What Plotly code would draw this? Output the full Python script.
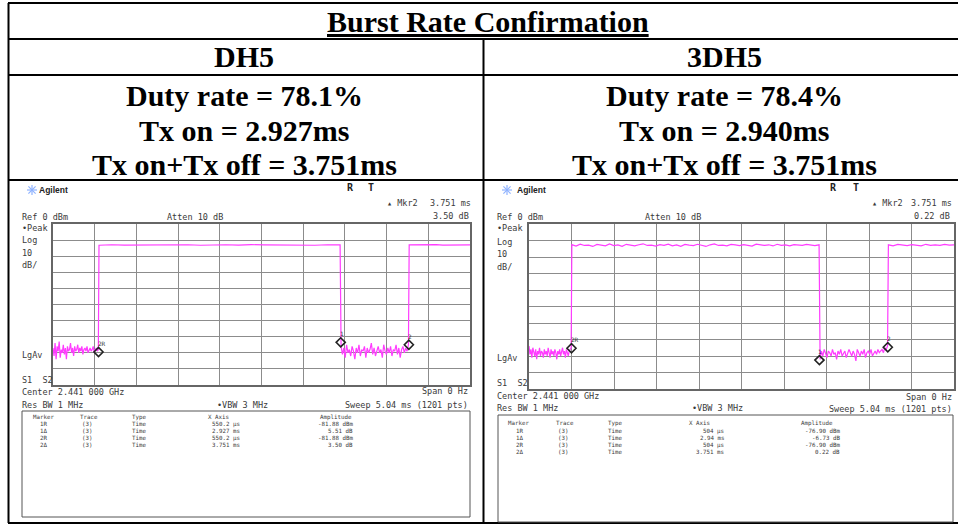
import numpy as np
import plotly.graph_objects as go

W, H = 958, 525

# ---------------- data ----------------
title_text = "Burst Rate Confirmation"
packet_types = ["DH5", "3DH5"]
duty_rates = ["78.1%", "78.4%"]
tx_on_times = ["2.927ms", "2.940ms"]
tx_periods = ["3.751ms", "3.751ms"]

sweep_ms = 5.04

# DH5 trace: segments (start ms, end ms) with levels (dBm)
dh5_seg_start = [0.0, 0.556, 3.482, 4.305]
dh5_seg_end = [0.548, 3.470, 4.296, 5.04]
dh5_low1 = [-77, -82, -74, -84, -76, -79, -73, -83, -78, -80, -75, -81, -77, -84, -76,
            -79, -78, -74, -80, -77, -82, -76, -79, -78, -75, -80, -77, -79, -76, -81,
            -78, -77, -79, -76, -80, -78, -77, -79, -78, -76, -80, -78, -77, -79, -78]
dh5_high1 = [-13.2, -12.9, -13.1, -13.0, -12.8, -13.1, -13.0, -12.9, -13.2, -13.0,
             -12.9, -13.1, -12.8, -13.0, -13.1, -12.9, -13.0, -13.2, -12.9, -13.0]
dh5_low2 = [-76, -81, -77, -83, -75, -80, -78, -82, -76, -79, -84, -77, -80, -75, -82,
            -78, -79, -76, -83, -77, -80, -78, -74, -81, -77, -82, -79, -76, -80, -78,
            -83, -75, -79, -81, -77, -80, -76, -82, -78, -79, -75, -81, -77, -83, -78,
            -76, -80, -77, -79, -75]
dh5_high2 = [-13.0, -12.9, -13.1, -13.0, -12.8, -13.1, -13.0, -12.9, -13.1, -13.0]

# 3DH5 trace
dh3_seg_start = [0.0, 0.508, 3.452, 4.262]
dh3_seg_end = [0.500, 3.440, 4.252, 5.04]
dh3_low1 = [-74, -79, -76, -81, -75, -78, -80, -76, -82, -77, -79, -75, -80, -77, -78,
            -81, -76, -79, -77, -80, -75, -78, -81, -76, -79, -77, -80, -76, -78, -82,
            -77, -79, -76, -80, -78, -75, -79, -77, -81, -76, -78, -80, -77, -76, -75]
dh3_high1 = [-12.5, -13.4, -12.2, -13.0, -12.8, -13.6, -12.4, -12.9, -13.2, -12.1,
             -13.1, -12.7, -13.5, -12.3, -12.9, -13.3, -12.6, -12.0, -13.0, -12.8,
             -13.4, -12.5, -12.9, -12.2, -13.2, -12.7, -13.5, -12.4, -12.8, -13.1,
             -12.3, -12.9, -13.6, -12.6, -12.1, -13.0, -12.8, -13.3, -12.4, -12.7,
             -13.1, -12.5, -12.9, -13.4, -12.2, -12.8, -13.0, -12.6, -13.3, -12.3,
             -12.9, -12.7, -13.2, -12.5, -12.8, -13.0, -12.4, -12.9, -13.1, -12.6]
dh3_low2 = [-82, -77, -80, -76, -79, -81, -77, -78, -80, -76, -79, -78, -82, -77, -79,
            -76, -80, -78, -77, -81, -79, -76, -78, -80, -77, -79, -83, -76, -78, -80,
            -77, -79, -76, -81, -78, -77, -79, -76, -80, -78, -77, -79, -76, -78, -77,
            -76, -78, -75, -76, -74]
dh3_high2 = [-12.6, -13.2, -12.4, -12.9, -13.1, -12.5, -12.8, -13.3, -12.3, -12.9,
             -12.7, -13.0, -12.4, -12.8, -12.6]

# marker positions on screen (ms, dBm) : R, 1 delta, 2 delta
dh5_mk_t = [0.5502, 3.4772, 4.3012]
dh5_mk_lvl = [-79.5, -73.5, -75.0]
dh3_mk_t = [0.504, 3.444, 4.255]
dh3_mk_lvl = [-75.3, -82.5, -74.7]
mk_labels = ["2R", "1", "2"]

# marker tables
mk_names = ["1R", "1\u0394", "2R", "2\u0394"]
mk_trace = ["(3)", "(3)", "(3)", "(3)"]
mk_type = ["Time", "Time", "Time", "Time"]
dh5_mk_x = ["550.2 \u00b5s", "2.927 ms", "550.2 \u00b5s", "3.751 ms"]
dh5_mk_amp = ["-81.88 dBm", "5.51 dB", "-81.88 dBm", "3.50 dB"]
dh3_mk_x = ["504 \u00b5s", "2.94 ms", "504 \u00b5s", "3.751 ms"]
dh3_mk_amp = ["-76.90 dBm", "-6.73 dB", "-76.90 dBm", "0.22 dB"]
mkr2_readout = [("3.751 ms", "3.50 dB"), ("3.751 ms", "0.22 dB")]


def build(starts, ends, segs):
    t, v = [], []
    for s, e, lv in zip(starts, ends, segs):
        t.extend(np.linspace(s, e, len(lv)).tolist())
        v.extend(lv)
    return t, v


dh5_t, dh5_v = build(dh5_seg_start, dh5_seg_end, [dh5_low1, dh5_high1, dh5_low2, dh5_high2])
dh3_t, dh3_v = build(dh3_seg_start, dh3_seg_end, [dh3_low1, dh3_high1, dh3_low2, dh3_high2])

# ---------------- layout helpers ----------------
def X(px):
    return px / W


def Y(py):
    return 1 - py / H


annotations = []
shapes = []

SERIF = "Liberation Serif"
MONO = "DejaVu Sans Mono"
SANS = "Liberation Sans"
SCR = "#3a3a3a"


def A(text, x, y, size, family=MONO, color=SCR, xa="left", ya="middle"):
    annotations.append(dict(text=text, x=X(x), y=Y(y), xref="paper", yref="paper",
                            showarrow=False, xanchor=xa, yanchor=ya, borderpad=0,
                            borderwidth=0,
                            font=dict(size=size, family=family, color=color)))


def L(x0, y0, x1, y1, color="black", width=2):
    shapes.append(dict(type="line", xref="paper", yref="paper", x0=X(x0), y0=Y(y0),
                       x1=X(x1), y1=Y(y1), line=dict(color=color, width=width)))


# ---------------- table ----------------
L(8, 3, W, 3)
L(8, 39, W, 39)
L(8, 75, W, 75)
L(8, 180, W, 180)
L(8, 523, W, 523)
L(8.5, 3, 8.5, 523)
L(483.5, 39, 483.5, 523)

TS = 30
A("<b><u>" + title_text + "</u></b>", 488, 22, TS, SERIF, "black", "center")
col_cx = [244, 724]
for i in range(2):
    cx = col_cx[i]
    A("<b>" + packet_types[i] + "</b>", cx, 56, TS, SERIF, "black", "center")
    A("<b>Duty rate = " + duty_rates[i] + "</b>", cx, 96, TS, SERIF, "black", "center")
    A("<b>Tx on = " + tx_on_times[i] + "</b>", cx, 131, TS, SERIF, "black", "center")
    A("<b>Tx on+Tx off = " + tx_periods[i] + "</b>", cx, 164, TS, SERIF, "black", "center")

# ---------------- analyzer screens ----------------
panels = [
    dict(logo=(32, 190), agl=39, R=347, T=368, mk=387, mkr=471, ref=22, att=167,
         peak=[228, 240, 253, 265], lgav=355, s12=380, center=392, span=(468, 391),
         res=405, vbw=217, sweep=(468, 405), box=(22, 411, 470, 517),
         hdr=417, rows=[424, 431, 438, 445],
         cols=dict(m=(33, 43), tr=(80, 87), ty=132, xa=(208, 240), am=(320, 353)),
         grid=(53, 470, 224, 385)),
    dict(logo=(507, 190), agl=517, R=830, T=853, mk=872, mkr=952, ref=497, att=645,
         peak=[228, 242, 254, 267], lgav=358, s12=383, center=396, span=(952, 397),
         res=408, vbw=692, sweep=(952, 409), box=(498, 415, 953, 530),
         hdr=423, rows=[431, 438, 445, 452],
         cols=dict(m=(508, 519), tr=(556, 563), ty=608, xa=(689, 724), am=(801, 840)),
         grid=(529, 954, 224, 389)),
]
mk_x_tables = [dh5_mk_x, dh3_mk_x]
mk_amp_tables = [dh5_mk_amp, dh3_mk_amp]

for i, p in enumerate(panels):
    lx, ly = p["logo"]
    for dx, dy in [(5, 0), (0, 5), (3.6, 3.6), (3.6, -3.6)]:
        L(lx - dx, ly - dy, lx + dx, ly + dy, "#8fb3ff", 1.2)
    A("<b>Agilent</b>", p["agl"], 190, 8.5, SANS, "#222")
    A("<b>R</b>", p["R"], 188, 10, MONO, "#222")
    A("<b>T</b>", p["T"], 188, 10, MONO, "#222")
    A("\u25b4 Mkr2", p["mk"], 203, 8.5)
    A(mkr2_readout[i][0], p["mkr"], 203, 8.5, xa="right")
    A(mkr2_readout[i][1], p["mkr"] - 2, 216, 8.5, xa="right")
    A("Ref 0 dBm", p["ref"], 217, 8.5)
    A("Atten 10 dB", p["att"], 217, 8.5)
    for txt, yy in zip(["\u2022Peak", "Log", "10", "dB/"], p["peak"]):
        A(txt, p["ref"], yy, 8.5)
    A("LgAv", p["ref"], p["lgav"], 8.5)
    A("S1  S2", p["ref"], p["s12"], 8.5)
    A("Center 2.441 000 GHz", p["ref"], p["center"], 8.5)
    A("Span 0 Hz", p["span"][0], p["span"][1], 8.5, xa="right")
    A("Res BW 1 MHz", p["ref"], p["res"], 8.5)
    A("\u2022VBW 3 MHz", p["vbw"], p["res"], 8.5)
    A("Sweep 5.04 ms (1201 pts)", p["sweep"][0], p["sweep"][1], 8.5, xa="right")
    bx0, by0, bx1, by1 = p["box"]
    shapes.append(dict(type="rect", xref="paper", yref="paper", x0=X(bx0), y0=Y(min(by1, 522)),
                       x1=X(bx1), y1=Y(by0), line=dict(color="#555", width=1)))
    c = p["cols"]
    fs = 5.8
    A("Marker", c["m"][0], p["hdr"], fs)
    A("Trace", c["tr"][0], p["hdr"], fs)
    A("Type", c["ty"], p["hdr"], fs)
    A("X Axis", c["xa"][0], p["hdr"], fs)
    A("Amplitude", c["am"][0], p["hdr"], fs)
    for r, yy in enumerate(p["rows"]):
        A(mk_names[r], c["m"][1], yy, fs, xa="center")
        A(mk_trace[r], c["tr"][1], yy, fs, xa="center")
        A(mk_type[r], c["ty"], yy, fs)
        A(mk_x_tables[i][r], c["xa"][1], yy, fs, xa="right")
        A(mk_amp_tables[i][r], c["am"][1], yy, fs, xa="right")

# ---------------- traces ----------------
fig = go.Figure()
traces = [(dh5_t, dh5_v, dh5_mk_t, dh5_mk_lvl), (dh3_t, dh3_v, dh3_mk_t, dh3_mk_lvl)]
for i, (t, v, mt, ml) in enumerate(traces):
    xa = "x" if i == 0 else "x2"
    ya = "y" if i == 0 else "y2"
    fig.add_trace(go.Scatter(x=t, y=v, mode="lines", xaxis=xa, yaxis=ya,
                             line=dict(color="#ff3cff", width=1.2), showlegend=False,
                             hoverinfo="skip"))
    fig.add_trace(go.Scatter(x=mt, y=ml, mode="markers", xaxis=xa, yaxis=ya,
                             marker=dict(symbol="diamond-open", size=7, color="#222",
                                         line=dict(color="#222", width=1.6)),
                             showlegend=False, hoverinfo="skip"))
    for k, lab in enumerate(mk_labels):
        annotations.append(dict(text=lab, x=mt[k], y=ml[k], xref=xa, yref=ya,
                                showarrow=False, xanchor="center", yanchor="bottom",
                                xshift=3 if k == 0 else 1, yshift=3,
                                font=dict(size=6, family=MONO, color="#333")))

axis_common = dict(showticklabels=False, showgrid=True, gridcolor="#8c8c8c", gridwidth=1.4,
                   zeroline=False, showline=True, mirror=True, linecolor="#666",
                   linewidth=1.5, ticks="", fixedrange=True)
g0 = panels[0]["grid"]
g1 = panels[1]["grid"]
fig.update_layout(
    width=W, height=H, margin=dict(l=0, r=0, t=0, b=0),
    paper_bgcolor="white", plot_bgcolor="white",
    xaxis=dict(domain=[X(g0[0]), X(g0[1])], range=[0, sweep_ms], dtick=sweep_ms / 10,
               tick0=0, anchor="y", **axis_common),
    yaxis=dict(domain=[Y(g0[3]), Y(g0[2])], range=[-100, 0], dtick=10, anchor="x",
               **axis_common),
    xaxis2=dict(domain=[X(g1[0]), X(g1[1])], range=[0, sweep_ms], dtick=sweep_ms / 10,
                tick0=0, anchor="y2", **axis_common),
    yaxis2=dict(domain=[Y(g1[3]), Y(g1[2])], range=[-100, 0], dtick=10, anchor="x2",
                **axis_common),
    annotations=annotations, shapes=shapes,
)

fig.write_html("out.html", config={"displayModeBar": False},
               post_script="document.body.style.margin='0';"
                           "document.body.style.overflow='hidden';")
